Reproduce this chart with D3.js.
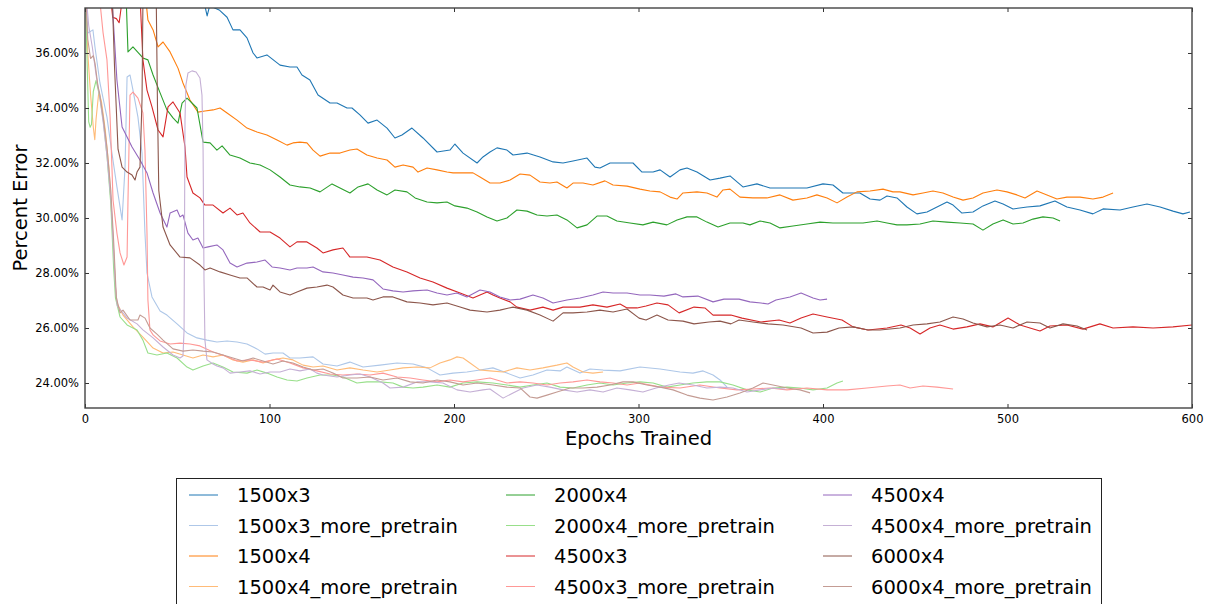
<!DOCTYPE html>
<html>
<head>
<meta charset="utf-8">
<script src="https://cdn.jsdelivr.net/npm/d3@7/dist/d3.min.js"></script>
<style>
  body { margin: 0; background: #fff; }
  text { font-family: "DejaVu Sans", sans-serif; fill: #000; }
</style>
</head>
<body>
<svg id="chart" width="1208" height="604"></svg>
<script>
// [epoch, percent error]
var s1500x3 = [[62,38.6],[66.2,37.35],[67.5,37.7],[69.5,37.66],[73,37.55],[77,37.3],[80.2,36.84],[84,36.84],[87.8,36.55],[91.1,36.0],[93.2,35.82],[98.6,35.93],[105.7,35.56],[111.1,35.49],[114.9,35.49],[117.6,35.2],[121.9,35.02],[126.3,34.47],[132.8,34.18],[136.6,34.18],[142,34.0],[144.7,34.0],[149,33.75],[153.4,33.45],[158.3,33.56],[163.7,33.27],[168,32.91],[171.8,33.02],[177.2,33.27],[183.2,32.91],[190.8,32.4],[197.8,32.47],[200.5,32.69],[204.9,32.36],[212.5,32.0],[215.7,32.22],[219.5,32.4],[223.3,32.55],[228.7,32.47],[232,32.29],[239.6,32.36],[246.6,32.22],[253.7,32.04],[259.1,32.0],[264.5,32.07],[272.1,32.18],[276.4,31.85],[279.1,31.82],[284.6,32.0],[290,32.0],[297,32.0],[301.9,31.67],[307.9,31.67],[311.7,31.75],[317.1,31.49],[322.5,31.75],[326.3,31.82],[331.7,31.67],[338.8,31.38],[344.2,31.45],[349.6,31.53],[356.6,31.13],[364.2,31.24],[371.3,31.09],[380.5,31.09],[391.3,31.09],[400,31.24],[405.4,31.2],[410.8,30.91],[420,30.91],[425.5,30.69],[430.9,30.65],[434.7,30.8],[440.1,30.73],[445.5,30.4],[450.9,30.15],[456.4,30.22],[461.8,30.4],[467.2,30.58],[470.5,30.47],[475.3,30.18],[481.3,30.22],[486.7,30.44],[493.2,30.62],[497.6,30.51],[503,30.33],[510.6,30.4],[517.6,30.44],[525.7,30.62],[532.2,30.4],[539.3,30.29],[546.3,30.15],[551.8,30.33],[561,30.29],[568,30.4],[575.6,30.51],[582.7,30.4],[589.7,30.25],[595.1,30.15],[598.9,30.22]];

var s1500x3More = [[0,38.6],[1.6,36.73],[4.3,36.84],[5.4,36.22],[8.1,34.91],[11.9,33.67],[14.6,32.36],[17.3,31.13],[20.1,29.93],[21.7,31.85],[22.8,35.13],[24.4,35.2],[26,34.65],[28.7,33.67],[30.9,32.36],[32.5,29.45],[33.6,28.0],[36.3,27.13],[40.7,26.62],[44.4,26.47],[49.9,26.15],[55.3,25.82],[60.7,25.64],[66.1,25.56],[71.5,25.49],[77,25.53],[82.4,25.49],[87.8,25.42],[93.2,25.24],[97.6,25.05],[101.9,25.09],[107.3,25.09],[111.1,24.91],[116.5,24.91],[123.6,24.95],[129,24.69],[136.6,24.62],[143.6,24.76],[150.7,24.58],[159.9,24.65],[169.1,24.73],[177.8,24.69],[185.4,24.55],[192.4,24.29],[199.5,24.36],[207,24.4],[214.1,24.47],[221.1,24.55],[228.7,24.36],[235.8,24.18],[242.8,24.29],[250.4,24.47],[257.5,24.44],[261.2,24.58],[268.3,24.36],[273.7,24.51],[280.8,24.47],[290,24.44],[300.8,24.58],[311.7,24.51],[322.5,24.4],[329.5,24.36],[335,24.44],[340.4,24.29],[344.2,24.11],[348,23.85]];

var s1500x4 = [[32,38.6],[34.1,37.2],[36.9,36.84],[39.6,36.22],[42.3,36.4],[46.1,36.04],[50.4,35.45],[53.1,34.91],[56.9,34.29],[61.2,33.85],[65,33.89],[69.4,33.93],[73.2,34.0],[77,33.82],[82.4,33.56],[87.8,33.27],[93.2,33.13],[98.6,33.02],[104.1,32.84],[109.5,32.65],[112.7,32.73],[116.5,32.76],[120.3,32.73],[123.6,32.47],[127.4,32.25],[132.8,32.36],[138.2,32.36],[143.6,32.47],[147.4,32.51],[152.8,32.29],[158.3,32.18],[163.7,32.11],[168,31.85],[172.4,31.93],[177.8,31.85],[180.5,31.67],[185.4,31.82],[190.8,31.75],[196.2,31.67],[199.5,31.64],[204.9,31.64],[210.3,31.64],[214.1,31.49],[219.5,31.27],[224.9,31.27],[230.4,31.38],[235.8,31.6],[241.2,31.56],[246.6,31.31],[252,31.27],[255.8,31.31],[261.2,31.09],[264.5,31.27],[269.9,31.27],[275.3,31.2],[281.8,31.35],[286.2,31.2],[293.8,31.16],[300.8,31.05],[306.2,30.98],[311.7,30.95],[317.1,30.76],[320.9,30.69],[324.1,30.91],[331.7,30.95],[337.1,30.91],[342.5,30.76],[345.8,31.02],[349.6,31.05],[355,30.76],[362,30.73],[369.6,30.73],[376.7,30.84],[383.7,30.65],[391.3,30.73],[396.7,30.84],[402.2,30.73],[407.6,30.55],[413,30.76],[418.4,30.95],[425.5,30.98],[432.5,31.05],[437.9,30.95],[441.7,30.95],[448.8,30.84],[454.2,30.91],[459.6,30.98],[465,30.91],[470.5,30.76],[475.9,30.65],[481.3,30.73],[486.7,30.91],[494.3,31.02],[499.7,30.95],[505.1,30.84],[509.5,30.73],[516,30.98],[521.4,30.84],[526.8,30.69],[532.2,30.76],[539.3,30.76],[546.3,30.69],[551.8,30.76],[557.2,30.91]];

var s1500x4More = [[0,38.6],[1.5,36.0],[3,34.5],[4.5,33.3],[5.3,32.85],[6,33.6],[7.5,34.6],[9,34.2],[11,33.2],[13,31.8],[15,29.5],[16.5,27.5],[17.3,26.91],[20.6,26.47],[26,26.04],[31.4,25.67],[36.9,25.27],[42.3,25.09],[47.7,25.13],[53.1,25.02],[58.5,24.91],[64,25.02],[69.4,24.95],[74.8,25.02],[80.2,24.84],[85.6,24.76],[91.1,24.84],[96.5,24.73],[101.9,24.84],[107.3,24.91],[112.7,24.84],[118.2,24.65],[123.6,24.58],[129,24.62],[136.6,24.47],[143.6,24.55],[150.7,24.47],[158.3,24.4],[165.3,24.47],[172.4,24.55],[179.9,24.58],[187,24.55],[192.4,24.73],[197.8,24.84],[201.6,24.95],[204.9,24.91],[208.7,24.73],[214.1,24.47],[219.5,24.44],[226.6,24.4],[234.1,24.55],[241.2,24.47],[248.2,24.55],[255.8,24.65],[261.2,24.73],[264.5,24.58],[269.9,24.4],[275.3,24.36],[280.8,24.4]];

var s2000x4 = [[22,38.6],[23.3,36.04],[26,36.22],[31.4,35.82],[34.1,35.75],[36.9,35.2],[40.7,34.55],[44.4,33.93],[47.7,33.64],[50.4,33.45],[52.6,34.18],[55.3,34.36],[60.7,34.0],[64,32.76],[67.8,32.73],[71.5,32.47],[74.3,32.62],[78.6,32.29],[84,32.18],[89.4,32.0],[94.9,31.93],[100.3,31.75],[105.7,31.49],[111.1,31.2],[116.5,31.13],[122,31.09],[127.4,30.95],[133.9,31.24],[138.2,31.09],[143.6,30.91],[148,31.13],[153.4,31.24],[158.3,31.02],[163.7,30.84],[168,31.02],[174.5,30.95],[178.9,30.73],[185.4,30.58],[190.8,30.55],[196.2,30.58],[200.5,30.44],[207,30.36],[212.5,30.22],[217.9,30.04],[223.3,29.89],[228.7,30.0],[234.1,30.29],[239.6,30.25],[245,30.11],[250.4,30.07],[255.8,30.11],[261.2,29.93],[266.7,29.64],[272.1,29.75],[277.5,30.07],[282.9,30.07],[288.3,29.89],[295.4,29.82],[302.4,29.75],[307.9,29.85],[315.4,29.75],[320.9,29.93],[326.3,30.04],[331.7,30.04],[337.1,29.85],[343.1,29.67],[349.6,29.82],[356.6,29.82],[360.4,29.75],[365.9,29.89],[371.3,29.82],[376.7,29.64],[383.7,29.71],[391.3,29.78],[398.4,29.85],[405.4,29.82],[413,29.82],[421.7,29.82],[429.3,29.89],[434.7,29.82],[440.1,29.75],[445.5,29.75],[452.6,29.78],[459.6,29.89],[467.2,29.85],[474.3,29.82],[481.3,29.78],[486.7,29.56],[492.1,29.78],[497.6,29.93],[503,29.78],[508.4,29.82],[513.8,29.96],[519.2,30.04],[524.7,30.0],[528.5,29.89]];

var s2000x4More = [[0,38.6],[2,33.5],[2.8,33.3],[3.5,33.4],[4.5,34.6],[6,35.0],[8,34.4],[10,33.5],[12,32.2],[14,30.5],[15.5,28.2],[16.5,27.1],[19,26.4],[22.8,26.11],[26,26.0],[28.2,25.93],[31.4,25.56],[34.1,25.09],[39,25.02],[44.4,25.09],[49.9,24.91],[55.3,24.58],[58.5,24.47],[64,24.62],[69.4,24.73],[74.8,24.58],[80.2,24.4],[87.8,24.36],[93.2,24.47],[98.6,24.36],[104.1,24.22],[109.5,24.11],[114.9,24.07],[120.3,24.18],[127.4,24.29],[134.4,24.29],[139.8,24.22],[147.4,24.0],[152.8,24.04],[159.9,24.04],[166.9,24.0],[172.4,23.85],[177.8,23.82],[183.2,23.85],[190.8,23.93],[197.8,23.85],[204.9,24.0],[212.5,24.04],[221.1,24.0],[228.7,23.93],[235.8,23.85],[242.8,23.93],[250.4,24.0],[257.5,23.85],[264.5,23.82],[272.1,23.93],[279.1,24.0],[286.2,23.93],[293.8,24.0],[300.8,24.04],[307.9,24.0],[315.4,23.85],[322.5,23.93],[329.5,24.0],[337.1,24.04],[344.2,24.04],[351.2,23.93],[358.8,23.75],[365.9,23.67],[372.9,23.82],[380.5,23.85],[387.5,23.82],[394.6,23.75],[402.2,23.82],[407.6,24.0],[410.8,24.07]];

var s4500x3 = [[13,38.6],[15,37.3],[17,37.25],[18.5,37.1],[19.5,37.6],[20.5,38.6],[29.5,38.6],[30.4,37.2],[31.4,35.75],[33.6,34.65],[36.3,34.04],[39.6,33.2],[42.3,32.95],[45,34.04],[47.7,34.22],[51.5,33.82],[54.2,32.58],[55.3,31.49],[58.5,30.91],[62.3,30.73],[65,30.47],[69.4,30.47],[74.8,30.18],[78.6,30.36],[82.4,30.11],[85.6,30.18],[89.4,29.82],[94.9,29.49],[100.3,29.49],[105.7,29.27],[111.1,28.95],[114.9,29.13],[120.3,29.13],[125.7,28.91],[129,28.73],[134.4,28.84],[139.8,28.91],[143.6,28.58],[152.8,28.58],[159.9,28.47],[166.9,28.22],[174.5,28.04],[181.6,27.82],[188.6,27.67],[196.2,27.45],[203.3,27.27],[210.3,27.09],[214.1,27.2],[217.9,27.31],[221.1,27.2],[224.9,27.09],[230.4,26.95],[234.1,26.76],[241.2,26.65],[248.2,26.76],[253.7,26.65],[259.1,26.76],[268.3,26.76],[275.3,26.84],[282.9,26.76],[290,26.87],[293.8,26.73],[299.2,26.73],[304.1,26.8],[310,26.91],[316,26.84],[322,26.55],[330.1,26.76],[336,26.73],[340.4,26.47],[350.1,26.47],[356.1,26.36],[366.4,26.22],[376.2,26.29],[382.1,26.18],[388.1,26.36],[394.6,26.51],[402.2,26.4],[410.3,26.29],[416.3,26.04],[424.4,25.93],[434.7,26.0],[442.3,26.11],[447.2,26.0],[452.6,25.78],[458,26.0],[463.4,26.11],[470.5,25.96],[478,26.04],[485.1,26.15],[492.1,26.04],[500.3,26.36],[506.8,26.11],[512.2,26.0],[517.6,25.89],[523,26.07],[532.2,26.11],[540.9,25.96],[550.1,26.15],[557.2,26.0],[568,26.04],[578.9,26.0],[589.7,26.04],[600,26.11]];

var s4500x3More = [[7,38.6],[9.8,36.73],[11.9,35.75],[13.6,33.67],[14.6,31.85],[15.2,30.65],[17.3,29.45],[19,28.73],[21.1,28.29],[22.8,28.58],[23.3,30.65],[24.4,34.47],[26,34.58],[28.7,34.36],[31.4,33.82],[32.5,32.47],[33.6,29.45],[34.1,27.02],[35.2,25.93],[36.9,25.75],[40.7,25.53],[46.1,25.42],[51.5,25.45],[56.9,25.42],[62.3,25.35],[69.4,25.13],[75.9,24.98],[82.4,24.8],[89.4,24.84],[96.5,24.76],[104.1,24.87],[111.1,24.73],[118.2,24.55],[125.7,24.44],[132.8,24.33],[139.8,24.29],[147.4,24.33],[154.5,24.29],[161.5,24.36],[169.1,24.22],[176.2,24.18],[183.2,24.11],[190.8,24.04],[197.8,24.11],[204.9,24.04],[212.5,24.11],[219.5,24.18],[228.7,24.0],[235.8,24.04],[242.8,24.0],[250.4,23.93],[257.5,24.0],[264.5,24.04],[272.1,24.11],[279.1,24.04],[286.2,24.0],[293.8,23.93],[300.8,24.0],[311.7,23.85],[322.5,23.82],[333.3,23.93],[344.2,23.82],[353.4,23.75],[362,23.78],[371.3,23.82],[380.5,23.75],[391.3,23.82],[402.2,23.75],[413,23.75],[423.8,23.82],[434.7,23.89],[441.7,23.93],[447.2,23.82],[454.2,23.89],[461.8,23.85],[470.5,23.78]];

var s4500x4 = [[14,38.6],[15.5,37.0],[17.3,35.02],[20.1,33.31],[25.5,32.58],[29.8,32.11],[33.6,31.64],[36.9,30.91],[40.7,30.18],[44.4,29.67],[46.1,30.18],[49.9,30.29],[51.5,30.04],[53.1,30.11],[55.8,29.45],[58.5,29.2],[61.2,29.27],[64,28.91],[66.7,28.95],[71.5,29.02],[74.8,28.84],[78.6,28.36],[82.4,28.22],[87.8,28.36],[93.2,28.4],[97.6,28.47],[101.4,28.22],[105.7,28.18],[111.1,28.11],[114.9,28.18],[120.3,28.18],[123.6,28.22],[129,28.04],[134.4,28.0],[139.8,27.93],[145.3,27.85],[150.7,27.82],[156.1,27.75],[161.5,27.42],[166.9,27.35],[172.4,27.31],[177.8,27.35],[185.4,27.38],[190.8,27.27],[196.2,27.2],[201.6,27.27],[207,27.13],[214.1,27.38],[219.5,27.31],[224.9,27.13],[230.4,27.02],[235.8,27.05],[242.8,27.2],[248.2,27.09],[253.7,26.91],[261.2,27.02],[268.3,27.09],[275.3,27.2],[280.8,27.31],[286.2,27.27],[293.8,27.27],[300.8,27.2],[306.2,27.2],[313.8,27.16],[320.3,27.24],[324.1,27.13],[332.2,27.16],[340.4,26.95],[346.3,27.05],[354.5,27.05],[360.4,26.95],[366.4,26.91],[370.2,26.87],[374.5,27.02],[382.1,27.13],[388.1,27.27],[394.6,27.09],[398.4,27.02],[402.2,27.05]];

var s4500x4More = [[0,38.6],[2,37.0],[4,36.2],[6,35.2],[8,34.4],[10,33.4],[12,32.2],[14,30.7],[15.5,28.8],[16.5,27.5],[17.5,26.8],[22.8,26.36],[28.2,26.15],[31.4,25.93],[36.9,25.64],[42.3,25.31],[47.7,25.02],[51.5,24.91],[53.1,24.98],[53.7,25.93],[54.2,33.56],[54.7,34.84],[55.8,35.27],[58,35.35],[60.2,35.31],[62.3,35.09],[63.4,34.47],[64,32.47],[64.5,27.75],[65,25.56],[66.1,24.84],[69.4,24.69],[71.5,24.62],[74.8,24.55],[78.6,24.36],[84,24.4],[89.4,24.44],[94.9,24.33],[100.3,24.4],[105.7,24.4],[111.1,24.51],[116.5,24.44],[122,24.51],[125.7,24.36],[129,24.29],[136.6,24.22],[143.6,24.29],[149,24.33],[154.5,24.22],[161.5,24.0],[165.3,23.82],[172.4,23.85],[179.9,24.04],[187,24.04],[194,24.0],[201.6,23.75],[208.7,23.67],[215.7,23.75],[219.5,23.78],[226.6,23.45],[232,23.64],[237.4,23.82],[245,23.93],[252,23.85],[259.1,23.75],[266.7,23.67],[273.7,23.75],[280.8,23.67],[288.3,23.82],[295.4,23.75],[302.4,23.67],[309.5,23.82],[316.5,23.93],[322,24.0],[329.5,23.93],[337.1,23.82],[344.2,23.85],[351.2,23.82],[358.8,23.67],[365.9,23.75],[372.9,23.82],[379.4,23.78]];

var s6000x4 = [[14.5,38.6],[16,35.5],[17.9,32.5],[20.1,31.85],[22.8,31.67],[25.5,31.56],[27.1,31.38],[28.2,31.67],[29.8,31.85],[30.9,34.29],[31.5,38.6],[38.5,38.6],[39.3,34.0],[40,31.0],[42.3,29.67],[46.1,29.02],[51.5,28.58],[56.9,28.55],[62.3,28.29],[65,28.11],[67.8,28.18],[73.2,28.04],[78.6,27.93],[84,27.82],[87.8,27.82],[93.2,27.49],[96.5,27.49],[100.3,27.38],[101.9,27.56],[105.7,27.31],[111.1,27.2],[114.9,27.31],[120.3,27.45],[125.7,27.49],[131.2,27.56],[134.4,27.49],[139.8,27.2],[145.3,27.09],[152.8,27.09],[156.1,27.02],[161.5,27.13],[166.9,27.13],[174.5,26.95],[181.6,26.91],[188.6,26.84],[196.2,26.91],[203.3,26.76],[208.7,26.65],[217.9,26.58],[224.9,26.65],[232,26.76],[239.6,26.65],[246.6,26.47],[253.7,26.25],[259.1,26.55],[264.5,26.55],[272.1,26.58],[279.1,26.65],[286.2,26.58],[293.8,26.69],[300.3,26.36],[304.1,26.29],[310,26.47],[316,26.29],[324.1,26.25],[330.1,26.15],[338.2,26.22],[344.2,26.25],[350.1,26.15],[354.5,26.29],[362,26.22],[370.2,26.15],[378.3,26.11],[388.1,26.0],[394.6,25.82],[402.2,25.85],[408.7,26.0],[416.3,26.04],[424.4,25.93],[430.9,25.93],[441.7,26.0],[448.8,26.11],[456.4,26.15],[463.4,26.22],[470.5,26.4],[475.9,26.33],[481.3,26.18],[488.9,26.04],[495.9,26.11],[503,26.0],[510.6,26.22],[517.6,26.18],[523,26.0],[530.1,26.15],[537.7,26.07],[543.1,25.93]];

var s6000x4More = [[0,38.6],[1.5,36.5],[3,35.8],[4.5,35.9],[5.5,35.6],[7,34.8],[8,34.5],[10,33.6],[12,32.5],[14,31.0],[15.5,29.2],[17,27.1],[19,26.55],[20.6,26.65],[24.4,26.29],[28.7,26.29],[29.8,26.47],[32.5,26.36],[35.2,26.0],[39,25.78],[42.3,25.56],[47.7,25.24],[53.1,25.16],[58.5,25.2],[64,25.16],[69.4,25.13],[74.8,25.02],[80.2,24.91],[85.6,24.8],[91.1,24.91],[96.5,24.8],[101.9,24.69],[107.3,24.8],[112.7,24.73],[118.2,24.58],[123.6,24.47],[129,24.51],[134.4,24.36],[139.8,24.18],[147.4,24.18],[154.5,24.22],[161.5,24.11],[169.1,24.18],[176.2,24.04],[183.2,24.0],[190.8,24.11],[197.8,24.04],[204.9,23.93],[212.5,24.0],[221.1,23.93],[228.7,23.85],[235.8,23.82],[241.2,23.49],[245,23.45],[250.4,23.56],[255.8,23.67],[262.9,23.82],[269.9,23.82],[277.5,23.85],[284.6,23.93],[291.6,24.04],[297,24.04],[304.6,23.93],[311.7,23.85],[318.7,23.75],[326.3,23.56],[333.3,23.45],[340.4,23.38],[348,23.49],[355,23.64],[362,23.82],[367.5,24.0],[372.9,23.93],[380.5,23.82],[387.5,23.75],[393,23.64]];

var seriesNames = ['1500x3', '1500x3_more_pretrain', '1500x4', '1500x4_more_pretrain',
                   '2000x4', '2000x4_more_pretrain', '4500x3', '4500x3_more_pretrain',
                   '4500x4', '4500x4_more_pretrain', '6000x4', '6000x4_more_pretrain'];
var seriesValues = [s1500x3, s1500x3More, s1500x4, s1500x4More,
                    s2000x4, s2000x4More, s4500x3, s4500x3More,
                    s4500x4, s4500x4More, s6000x4, s6000x4More];
var seriesColors = ['#1f77b4', '#aec7e8', '#ff7f0e', '#ffbb78',
                    '#2ca02c', '#98df8a', '#d62728', '#ff9896',
                    '#9467bd', '#c5b0d5', '#8c564b', '#c49c94'];

var xTicks = [0, 100, 200, 300, 400, 500, 600];
var yTicks = [24, 26, 28, 30, 32, 34, 36];

(function() {

	var pLeft = 85, pRight = 1192, pTop = 8, pBottom = 408;

	var svg = d3.select('#chart');

	var x = d3.scaleLinear().domain([0, 600]).range([pLeft, pRight]);
	var y = d3.scaleLinear().domain([23.091, 37.636]).range([pBottom, pTop]);

	svg.append('defs').append('clipPath')
		.attr('id', 'plotClip')
		.append('rect')
		.attr('x', pLeft).attr('y', pTop)
		.attr('width', pRight - pLeft).attr('height', pBottom - pTop);

	var line = d3.line()
		.x(function(d) { return x(d[0]); })
		.y(function(d) { return y(d[1]); });

	var series = seriesNames.map(function(name, i) {
		return { name: name, values: seriesValues[i], color: seriesColors[i] };
	});

	svg.append('g')
		.attr('class', 'lines')
		.attr('clip-path', 'url(#plotClip)')
		.selectAll('path')
		.data(series)
		.enter()
		.append('path')
		.attr('d', function(d) { return line(d.values); })
		.attr('fill', 'none')
		.attr('stroke', function(d) { return d.color; })
		.attr('stroke-width', 1.1)
		.attr('stroke-linejoin', 'round');

	// axes, ticks pointing inward on all four sides
	var fmt = function(d) { return d.toFixed(2) + '%'; };

	var yAxis = svg.append('g')
		.attr('transform', 'translate(' + pLeft + ',0)')
		.call(d3.axisLeft(y).tickValues(yTicks).tickSize(-4).tickPadding(6).tickFormat(fmt));

	var yAxisR = svg.append('g')
		.attr('transform', 'translate(' + pRight + ',0)')
		.call(d3.axisRight(y).tickValues(yTicks).tickSize(-4).tickFormat(''));

	var xAxis = svg.append('g')
		.attr('transform', 'translate(0,' + pBottom + ')')
		.call(d3.axisBottom(x).tickValues(xTicks).tickSize(-4).tickPadding(7));

	var xAxisT = svg.append('g')
		.attr('transform', 'translate(0,' + pTop + ')')
		.call(d3.axisTop(x).tickValues(xTicks).tickSize(-4).tickFormat(''));

	[yAxis, yAxisR, xAxis, xAxisT].forEach(function(a) {
		a.select('.domain').remove();
		a.selectAll('line').attr('stroke', '#333');
		a.selectAll('text')
			.style('font-family', '"DejaVu Sans", sans-serif')
			.style('font-size', '11.5px')
			.attr('fill', '#000');
	});

	svg.append('rect')
		.attr('x', pLeft).attr('y', pTop)
		.attr('width', pRight - pLeft).attr('height', pBottom - pTop)
		.attr('fill', 'none')
		.attr('stroke', '#444')
		.attr('stroke-width', 1.4);

	svg.append('text')
		.attr('x', (pLeft + pRight) / 2)
		.attr('y', 445)
		.attr('text-anchor', 'middle')
		.style('font-size', '19.5px')
		.text('Epochs Trained');

	svg.append('text')
		.attr('transform', 'translate(27,' + ((pTop + pBottom) / 2) + ') rotate(-90)')
		.attr('text-anchor', 'middle')
		.style('font-size', '19.5px')
		.text('Percent Error');

	// legend, 3 columns filled top to bottom
	var legend = svg.append('g').attr('class', 'legend');

	legend.append('rect')
		.attr('x', 176.5).attr('y', 478.5)
		.attr('width', 925).attr('height', 150)
		.attr('fill', '#fff')
		.attr('stroke', '#222')
		.attr('stroke-width', 1);

	var colX = [189, 506, 823];
	var rowY = [495, 525.5, 556, 586.5];

	var items = legend.selectAll('g.item')
		.data(series)
		.enter()
		.append('g')
		.attr('class', 'item')
		.attr('transform', function(d, i) {
			return 'translate(' + colX[Math.floor(i / 4)] + ',' + rowY[i % 4] + ')';
		});

	items.append('line')
		.attr('x1', 0).attr('x2', 29)
		.attr('y1', 0).attr('y2', 0)
		.attr('stroke', function(d) { return d.color; })
		.attr('stroke-width', 1);

	items.append('text')
		.attr('x', 48)
		.attr('dy', '0.36em')
		.style('font-size', '19.5px')
		.text(function(d) { return d.name; });

})();
</script>
</body>
</html>
